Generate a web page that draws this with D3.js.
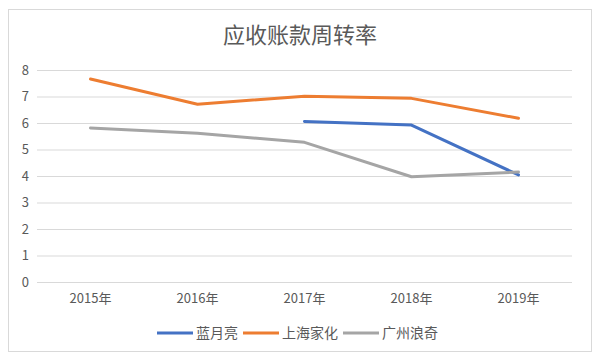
<!DOCTYPE html>
<html><head><meta charset="utf-8">
<script src="https://cdn.jsdelivr.net/npm/d3@7"></script>
<style>body{margin:0;background:#fff;}svg{display:block;}</style>
</head><body><svg id="c" width="600" height="357"></svg>
<script>
const categories = ["2015年","2016年","2017年","2018年","2019年"];
const seriesNames = ["蓝月亮","上海家化","广州浪奇"];
const lanyueliang = [null, null, 6.06, 5.92, 4.04];
const shanghaijiahua = [7.66, 6.71, 7.01, 6.93, 6.18];
const guangzhoulangqi = [5.81, 5.61, 5.27, 3.97, 4.15];
const yTicks = [0,1,2,3,4,5,6,7,8];
const colors = ["#4472C4","#ED7D31","#A5A5A5"];
const series = [lanyueliang, shanghaijiahua, guangzhoulangqi];

const svg = d3.select("#c");
const font = "'Noto Sans CJK SC', 'Noto Sans', sans-serif";
svg.append("rect").attr("x",8.5).attr("y",9.5).attr("width",583).attr("height",342)
  .attr("fill","#fff").attr("stroke","#D9D9D9");
svg.append("text").attr("x",300).attr("y",43).attr("text-anchor","middle")
  .attr("font-family",font).attr("font-size",22).attr("fill","#595959").text("应收账款周转率");

const x = d3.scaleBand().domain(categories).range([37,572]);
const y = d3.scaleLinear().domain([0,8]).range([282,70]);

const grid = svg.append("g");
grid.selectAll("line").data(yTicks).join("line")
  .attr("x1",37).attr("x2",572).attr("y1",d=>y(d)+0.5).attr("y2",d=>y(d)+0.5)
  .attr("stroke","#D9D9D9").attr("stroke-width",1);

const yAxis = svg.append("g").attr("transform","translate(29,0)")
  .call(d3.axisLeft(y).tickValues(yTicks).tickSize(0).tickPadding(0));
yAxis.select(".domain").remove();
yAxis.selectAll("text").attr("font-family",font).attr("font-size",13).attr("fill","#595959");

const xAxis = svg.append("g").attr("transform","translate(0,291)")
  .call(d3.axisBottom(x).tickSize(0).tickPadding(0));
xAxis.select(".domain").remove();
xAxis.selectAll("text").attr("font-family",font).attr("font-size",13).attr("fill","#595959").attr("dy","0.9em");

const line = d3.line().defined(d=>d.v!=null)
  .x(d=>x(d.c)+x.bandwidth()/2).y(d=>y(d.v));
series.forEach((s,i)=>{
  svg.append("path").datum(s.map((v,j)=>({c:categories[j],v})))
    .attr("d",line).attr("fill","none").attr("stroke",colors[i])
    .attr("stroke-width",3).attr("stroke-linejoin","round").attr("stroke-linecap","round");
});

const legend = svg.append("g");
const items = [{x:157},{x:243},{x:343}];
seriesNames.forEach((n,i)=>{
  const g = legend.append("g").attr("transform",`translate(${items[i].x},333)`);
  g.append("line").attr("x1",0).attr("x2",36).attr("stroke",colors[i]).attr("stroke-width",3);
  g.append("text").attr("x",39).attr("y",5).attr("font-family",font).attr("font-size",14)
    .attr("fill","#595959").text(n);
});
</script></body></html>
